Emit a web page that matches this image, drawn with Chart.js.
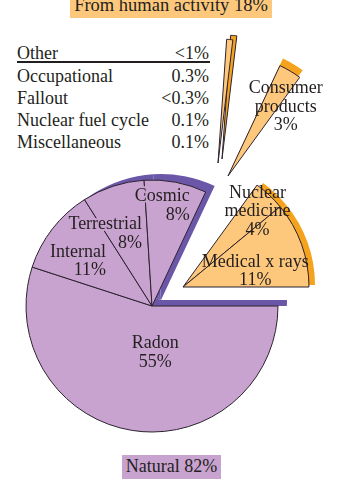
<!DOCTYPE html>
<html>
<head>
<meta charset="utf-8">
<script src="https://cdn.jsdelivr.net/npm/chart.js@4.4.0/dist/chart.umd.min.js"></script>
<style>
  body { margin: 0; background: #fff; }
  #wrap { position: relative; width: 360px; height: 486px; overflow: hidden; font-family: "Liberation Serif", serif; color: #231f20; }
  #wrap canvas { position: absolute; left: 0; top: 0; }
  #human { position: absolute; left: 70px; top: 0; width: 202px; height: 18px; background: #fdc87c; }
  #human span { position: absolute; left: 0; right: 0; top: -4px; line-height: 18px; font-size: 18.5px; text-align: center; white-space: nowrap; }
  #natural { position: absolute; left: 122px; top: 455px; width: 99px; height: 24px; line-height: 22px; font-size: 18px; text-align: center; background: #c9a3cf; white-space: nowrap; }
  #other { position: absolute; left: 17px; top: 42.3px; width: 192px; font-size: 18px; line-height: 22.3px; }
  #other .row { display: flex; justify-content: space-between; white-space: nowrap; }
  #rule { position: absolute; left: 17px; top: 61px; width: 193px; height: 2px; background: #231f20; }
</style>
</head>
<body>
<div id="wrap">
  <div id="human"><span></span></div>
  <div id="other"></div>
  <div id="rule"></div>
  <div id="natural"></div>
</div>
<script>
// Slices, clockwise from 3 o'clock (percent of the yearly dose)
var categories = ['Radon', 'Internal', 'Terrestrial', 'Cosmic', 'Consumer products', 'Nuclear medicine', 'Medical x rays'];
var values = [55, 11, 8, 8, 3, 4, 11];

// the thin "Other" sliver and its breakdown
var otherLabel = 'Other';
var otherShare = '<1%';
var otherTotal = 0.8;
var otherItems = ['Occupational', 'Fallout', 'Nuclear fuel cycle', 'Miscellaneous'];
var otherShares = ['0.3%', '<0.3%', '0.1%', '0.1%'];

var naturalTitle = 'Natural 82%';
var humanTitle = 'From human activity 18%';

// colours
var PURPLE = '#c9a3cf';
var PURPLE_DARK = '#6b57a7';
var ORANGE = '#fdc87c';
var ORANGE_DARK = '#f5a21d';
var LINE = '#2d2230';
var TEXT = '#231f20';
var NONE = 'rgba(0,0,0,0)';

var W = 360, H = 486, R = 126;

document.querySelector('#human span').textContent = humanTitle;
document.getElementById('natural').textContent = naturalTitle;

// the little table of "Other" sources
var table = document.getElementById('other');
var rows = [[otherLabel, otherShare]];
for (var i = 0; i < otherItems.length; i++) rows.push([otherItems[i], otherShares[i]]);
rows.forEach(function(r) {
  var row = document.createElement('div');
  row.className = 'row';
  var a = document.createElement('span');
  var b = document.createElement('span');
  a.textContent = r[0];
  b.textContent = r[1];
  row.appendChild(a);
  row.appendChild(b);
  table.appendChild(row);
});

function centerPadding(cx, cy, w, h) {
  return {
    left: Math.max(0, 2 * cx - w),
    right: Math.max(0, w - 2 * cx),
    top: Math.max(0, 2 * cy - h),
    bottom: Math.max(0, h - 2 * cy)
  };
}

// draws the name + value of some slices on top of the pie
function labeller(items, names, vals) {
  return {
    id: 'sliceLabels',
    afterDatasetsDraw: function(chart) {
      var ctx = chart.ctx;
      var arcs = chart.getDatasetMeta(0).data;
      ctx.save();
      ctx.font = '18px "Liberation Serif"';
      ctx.fillStyle = TEXT;
      ctx.textBaseline = 'middle';
      ctx.lineJoin = 'round';
      items.forEach(function(it) {
        var p = arcs[it.index].getProps(['x', 'y', 'startAngle', 'endAngle']);
        var ang = (p.startAngle + p.endAngle) / 2 + it.da * Math.PI / 180;
        var x = p.x + Math.cos(ang) * it.r;
        var y = p.y + Math.sin(ang) * it.r;
        var lines = it.wrap ? names[it.index].split(' ') : [names[it.index]];
        lines.push(vals[it.index] + '%');
        ctx.textAlign = it.align || 'center';
        lines.forEach(function(t, k) {
          var ly = y + (k - (lines.length - 1) / 2) * 18.5;
          if (it.halo) {
            ctx.lineWidth = 4;
            ctx.strokeStyle = it.halo;
            ctx.strokeText(t, x, ly);
          }
          ctx.fillText(t, x, ly);
        });
      });
      ctx.restore();
    }
  };
}

// one exploded piece of the pie = one chart on its own layer
function piece(opts) {
  var h = opts.height || H;
  var canvas = document.createElement('canvas');
  canvas.width = W;
  canvas.height = h;
  document.getElementById('wrap').appendChild(canvas);
  var names = opts.names || categories;
  var data = opts.data || values;
  var colors = names.map(function(n, i) { return opts.show.indexOf(i) >= 0 ? opts.color : NONE; });
  var borders = names.map(function(n, i) { return opts.show.indexOf(i) >= 0 && opts.border ? 1 : 0; });
  return new Chart(canvas.getContext('2d'), {
    type: 'pie',
    data: {
      labels: names,
      datasets: [{
        data: data,
        backgroundColor: colors,
        borderColor: LINE,
        borderWidth: borders,
        clip: false
      }]
    },
    options: {
      responsive: false,
      animation: false,
      events: [],
      devicePixelRatio: 1,
      radius: opts.radius || R,
      rotation: opts.rotation === undefined ? 90 : opts.rotation,
      layout: { padding: centerPadding(opts.cx, opts.cy, W, h) },
      plugins: { legend: { display: false }, tooltip: { enabled: false } }
    },
    plugins: opts.labels ? [labeller(opts.labels, names, data)] : []
  });
}

var natural = [0, 1, 2, 3];
var medical = [5, 6];
var consumer = [4];

// dark "depth" copies first, shifted up and right
piece({ cx: 161, cy: 300, height: 306, show: natural, color: PURPLE_DARK });
piece({ cx: 189, cy: 285, show: medical, color: ORANGE_DARK });
piece({ cx: 231, cy: 169, radius: 122, show: consumer, color: ORANGE_DARK });
piece({ cx: 222, cy: 159, radius: 124, names: [otherLabel, ''], data: [otherTotal, 100 - otherTotal], rotation: 4, show: [0], color: ORANGE_DARK, border: true });

// front faces
piece({ cx: 152, cy: 306, show: natural, color: PURPLE, border: true, labels: [
  { index: 0, r: 47, da: -13 },
  { index: 1, r: 64, da: 6.3, align: 'right', halo: PURPLE },
  { index: 2, r: 73, da: 10.2, align: 'right', halo: PURPLE },
  { index: 3, r: 107, da: 9.8, align: 'right', halo: PURPLE }
] });
piece({ cx: 183, cy: 287, show: medical, color: ORANGE, border: true, labels: [
  { index: 5, r: 106, da: 1.4, wrap: true },
  { index: 6, r: 74, da: 7.4 }
] });
piece({ cx: 228, cy: 176, radius: 122, show: consumer, color: ORANGE, border: true, labels: [
  { index: 4, r: 90, da: 9.4, wrap: true }
] });
piece({ cx: 218, cy: 163, radius: 124, names: [otherLabel, ''], data: [otherTotal, 100 - otherTotal], rotation: 4, show: [0], color: ORANGE, border: true });
</script>
</body>
</html>
